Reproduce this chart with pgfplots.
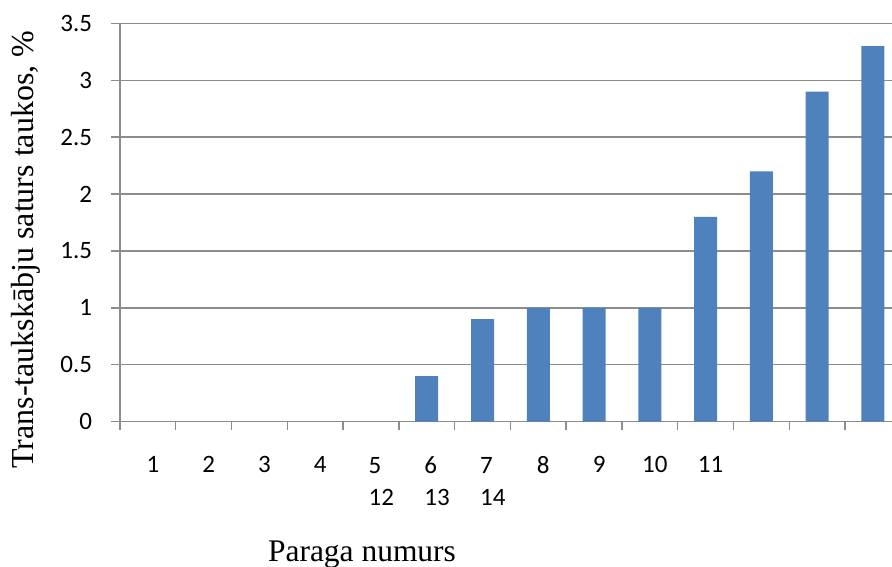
\documentclass[border=0pt]{standalone}
\usepackage{fontspec}
\setmainfont{Liberation Serif}
\newfontfamily\carlito{Carlito}
\usepackage{pgfplots}
\pgfplotsset{compat=1.18}
\definecolor{barblue}{HTML}{4F81BD}
\definecolor{gridgray}{HTML}{8C8C8C}
\begin{document}
\begin{tikzpicture}
\useasboundingbox (0,0) rectangle (669pt,425.25pt);
\begin{axis}[
  at={(90pt,108.98pt)}, anchor=south west,
  scale only axis, width=579pt, height=298.8pt,
  xmin=0.5, xmax=14.343, ymin=0, ymax=3.5,
  axis x line*=bottom, axis y line*=left,
  axis line style={draw=gridgray, line width=1pt, -},
  ytick={0,0.5,...,3.5},
  xtick={0.5,1.5,...,13.5},
  xticklabels={1,2,3,4,{\vphantom{6}5\\12\hspace*{-8pt}},{6\\13\hspace*{-8pt}},{\vphantom{6}7\\14\hspace*{-8pt}},8,9,10,11,,,},
  tick align=outside, major tick length=6.5pt,
  tick style={draw=gridgray, line width=1pt},
  ymajorgrids, grid style={draw=gridgray, line width=1pt},
  xticklabel style={font=\carlito\fontsize{18.75}{24}\selectfont, align=left, anchor=north, inner sep=0pt, xshift=24.7pt, yshift=-19.2pt},
  yticklabel style={font=\carlito\fontsize{18.75}{24}\selectfont, anchor=east, inner sep=0pt, xshift=-14.2pt},
  /pgf/number format/assume math mode=true,
  ybar, bar width=17.25pt,
]
\addplot[fill=barblue, draw=none] coordinates {
  (1,0) (2,0) (3,0) (4,0) (5,0) (6,0.4) (7,0.9) (8,1.0) (9,1.0) (10,1.0)
  (11,1.8) (12,2.2) (13,2.9) (14,3.3)};
\end{axis}
\node[rotate=90, anchor=base, font=\fontsize{24}{28}\selectfont, inner sep=0pt] at (24.75pt, 238pt) {Trans-taukskābju saturs taukos, \%};
\node[anchor=base, font=\fontsize{23.6}{28}\selectfont, inner sep=0pt] at (271.5pt, 4.2pt) {Paraga numurs};
\end{tikzpicture}
\end{document}
